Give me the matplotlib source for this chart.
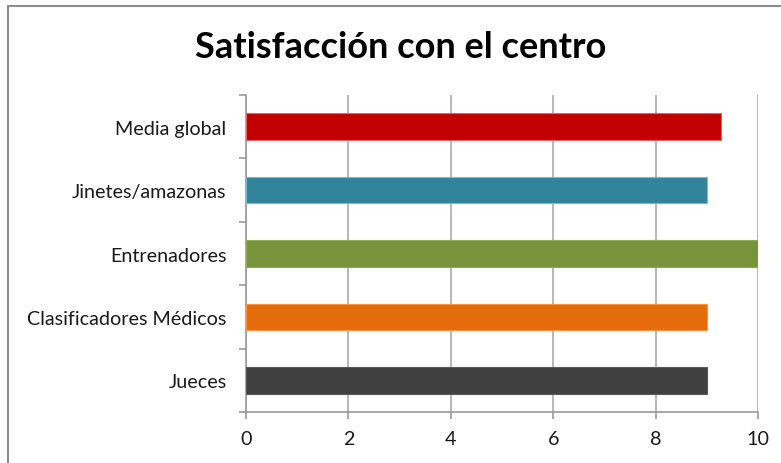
import matplotlib
matplotlib.use("Agg")
import matplotlib.pyplot as plt
from matplotlib.patches import Rectangle

# datos
categorias = ["Jueces", "Clasificadores Médicos", "Entrenadores",
              "Jinetes/amazonas", "Media global"]
valores = [9.0, 9.0, 10.0, 9.0, 9.28]
colores = ["#404040", "#E46C0A", "#77933C", "#31849B", "#C00000"]
bordes = ["#5a5a5a", "#F79646", "#8FAA55", "#7FB8C8", "#E06666"]
ticks_x = [0, 2, 4, 6, 8, 10]

plt.rcParams["font.family"] = ["Lato", "DejaVu Sans"]

W, H = 781, 464
fig = plt.figure(figsize=(W / 100, H / 100), dpi=100)

# marco del gráfico (se sale por la derecha y abajo)
fig.patches.append(Rectangle((8 / W, -0.1), 1.2, 1 - 7 / H + 0.1,
                             transform=fig.transFigure, fill=False,
                             edgecolor="#8c8c8c", linewidth=1.5))

ax = fig.add_axes([246 / W, 1 - 413 / H, (758 - 246) / W, (413 - 96) / H])

pos = list(range(len(categorias)))
ax.barh(pos, valores, height=0.42, color=colores, edgecolor=bordes,
        linewidth=0.8, zorder=3)

ax.set_xlim(0, 10)
ax.set_ylim(-0.5, len(categorias) - 0.5)
ax.set_xticks(ticks_x)
ax.set_xticklabels([str(t) for t in ticks_x])
ax.set_yticks(pos)
ax.set_yticklabels(categorias)
ax.set_yticks([p - 0.5 for p in pos] + [len(pos) - 0.5], minor=True)

ax.grid(axis="x", color="#b8b8b8", linewidth=1.4, zorder=0)
for s in ["top", "right"]:
    ax.spines[s].set_visible(False)
for s in ["left", "bottom"]:
    ax.spines[s].set_color("#9a9a9a")
    ax.spines[s].set_linewidth(1.2)

ax.tick_params(axis="y", which="major", length=0, pad=14,
               labelsize=14.2, labelcolor="#1a1a1a")
ax.tick_params(axis="y", which="minor", length=5, color="#9a9a9a", width=1.2)
ax.tick_params(axis="x", length=5, color="#9a9a9a", width=1.2,
               labelsize=14.2, labelcolor="#1a1a1a", pad=8)

fig.text(401 / W, 1 - 48 / H, "Satisfacción con el centro",
         ha="center", va="center", fontsize=26, fontweight="bold",
         color="black")

fig.savefig("out.png", dpi=100)
